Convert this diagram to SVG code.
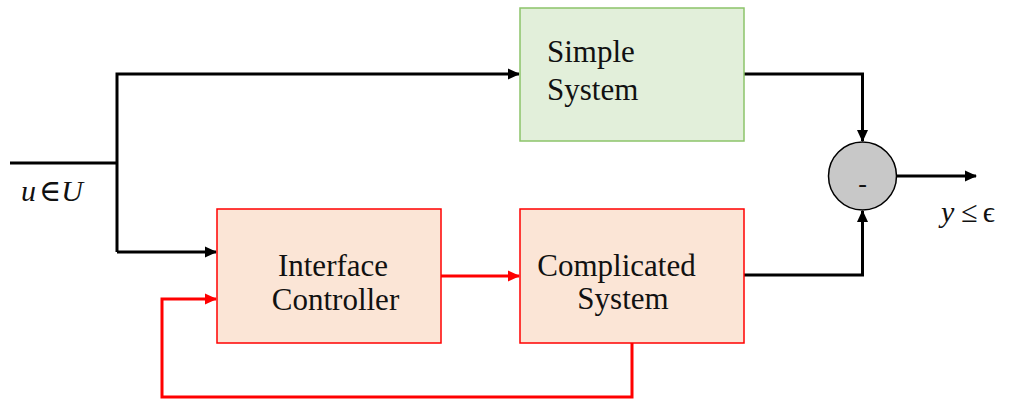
<svg xmlns="http://www.w3.org/2000/svg" width="1016" height="400" viewBox="0 0 1016 400">
<defs>
<style>
.lbl{font-family:"Liberation Serif","Times New Roman",serif;font-size:31px;fill:#111}
.math{font-family:"Liberation Serif","DejaVu Serif",serif;fill:#111}
.blk{fill:none;stroke:#000;stroke-width:3}
.red{fill:none;stroke:#ff0000;stroke-width:3}
.green{fill:#e2efda;stroke:#8cc46a;stroke-width:1.5}
.pink{fill:#fbe5d6;stroke:#ff0000;stroke-width:1.5}
</style>
<marker id="ab" markerWidth="12" markerHeight="12" refX="11" refY="6" orient="auto" markerUnits="userSpaceOnUse"><path d="M0,0.5 L12,6 L0,11.5 Z" fill="#000"/></marker>
<marker id="ar" markerWidth="12" markerHeight="12" refX="11" refY="6" orient="auto" markerUnits="userSpaceOnUse"><path d="M0,0.5 L12,6 L0,11.5 Z" fill="#ff0000"/></marker>
</defs>
<rect width="1016" height="400" fill="#fff"/>
<g id="connectors">
<path class="blk" d="M10,163 H117"/>
<path class="blk" d="M117,252 V74 H519" marker-end="url(#ab)"/>
<path class="blk" d="M117,252 H216" marker-end="url(#ab)"/>
<path class="blk" d="M744,74 H862.5 V141" marker-end="url(#ab)"/>
<path class="blk" d="M744,275 H862.5 V211" marker-end="url(#ab)"/>
<path class="blk" d="M897,176 H976" marker-end="url(#ab)"/>
<path class="red" d="M441,276 H519" marker-end="url(#ar)"/>
<path class="red" d="M632,343 V397 H162 V299 H216" marker-end="url(#ar)"/>
</g>
<g id="simple-system">
<rect class="green" x="520" y="8" width="224" height="133"/>
<text class="lbl" x="547" y="62">Simple</text>
<text class="lbl" x="547" y="100">System</text>
</g>
<g id="interface-controller">
<rect class="pink" x="217" y="209" width="224" height="134"/>
<text class="lbl" x="333" y="276" text-anchor="middle">Interface</text>
<text class="lbl" x="335.5" y="310" text-anchor="middle">Controller</text>
</g>
<g id="complicated-system">
<rect class="pink" x="520" y="209" width="224" height="134"/>
<text class="lbl" x="616.5" y="276" text-anchor="middle">Complicated</text>
<text class="lbl" x="623" y="309" text-anchor="middle">System</text>
</g>
<g id="subtractor">
<circle cx="862.5" cy="176" r="34" fill="#c8c8c8" stroke="#000" stroke-width="1.5"/>
<text class="math" x="862.5" y="192" font-size="26" text-anchor="middle">-</text>
</g>
<g id="input-label">
<text class="math" x="21" y="201" font-size="30"><tspan font-style="italic">u</tspan><tspan dx="3">∈</tspan><tspan font-style="italic">U</tspan></text>
</g>
<g id="output-label">
<text class="math" x="941" y="222" font-size="30"><tspan font-style="italic">y</tspan><tspan dx="7">≤</tspan><tspan dx="5">ϵ</tspan></text>
</g>
</svg>
